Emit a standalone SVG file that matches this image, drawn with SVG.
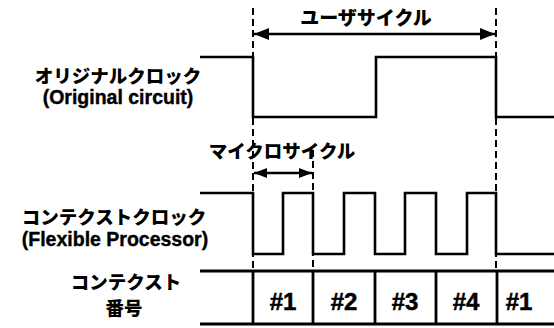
<svg xmlns="http://www.w3.org/2000/svg" width="554" height="328" viewBox="0 0 554 328">
<defs>
<style>
.jp{font-family:"Noto Sans CJK JP","Liberation Sans",sans-serif;font-weight:900;font-size:18.5px;fill:#000;text-anchor:middle}
.en{font-family:"Liberation Sans",Arial,sans-serif;font-weight:bold;font-size:19.5px;fill:#000;text-anchor:middle;stroke:#000;stroke-width:0.4}
.num{font-family:"Liberation Sans",Arial,sans-serif;font-weight:bold;font-size:24px;fill:#000;text-anchor:middle;stroke:#000;stroke-width:0.5}
.sig{fill:none;stroke:#000;stroke-width:2.6;stroke-linejoin:miter}
.dash{fill:none;stroke:#000;stroke-width:2;stroke-dasharray:7 4}
.tbl{fill:none;stroke:#000;stroke-width:2.8}
.arr{fill:none;stroke:#000;stroke-width:2.6}
</style>
<marker id="ah" viewBox="0 0 15 12" refX="15" refY="6" markerWidth="15" markerHeight="12" markerUnits="userSpaceOnUse" orient="auto-start-reverse">
<path d="M0,0 L15,6 L0,12 Z" fill="#000"/>
</marker>
<marker id="ahs" viewBox="0 0 13 10" refX="13" refY="5" markerWidth="13" markerHeight="10" markerUnits="userSpaceOnUse" orient="auto-start-reverse">
<path d="M0,0 L13,5 L0,10 Z" fill="#000"/>
</marker>
</defs>
<rect width="554" height="328" fill="#fff"/>

<g id="connectors">
<line class="dash" x1="253" y1="8" x2="253" y2="270"/>
<line class="dash" x1="496" y1="8" x2="496" y2="270"/>
<line class="dash" x1="313" y1="150" x2="313" y2="270"/>
<line class="arr" x1="254" y1="34" x2="495" y2="34" marker-start="url(#ah)" marker-end="url(#ah)"/>
<line class="arr" x1="254" y1="173" x2="312" y2="173" marker-start="url(#ahs)" marker-end="url(#ahs)"/>
</g>

<g id="user-cycle-label">
<text class="jp" x="366" y="25" style="font-size:19px">ユーザサイクル</text>
</g>

<g id="original-clock">
<text class="jp" x="118" y="83">オリジナルクロック</text>
<text class="en" x="118" y="104">(Original circuit)</text>
<path class="sig" d="M200,57 H253 V117 H376 V57 H496 V117 H554"/>
</g>

<g id="micro-cycle-label">
<text class="jp" x="282" y="158">マイクロサイクル</text>
</g>

<g id="context-clock">
<text class="jp" x="114" y="224">コンテクストクロック</text>
<text class="en" x="115" y="246">(Flexible Processor)</text>
<path class="sig" d="M200,193 H253 V254 H283 V193 H313 V254 H344 V193 H375 V254 H405 V193 H436 V254 H467 V193 H496 V254 H554"/>
</g>

<g id="context-number">
<text class="jp" x="126" y="289">コンテクスト</text>
<text class="jp" x="124" y="315">番号</text>
<path class="tbl" d="M200,271 H554 M200,324 H554 M253,271 V324 M313,271 V324 M375,271 V324 M436,271 V324 M497,271 V324"/>
<text class="num" x="283" y="310">#1</text>
<text class="num" x="344" y="310">#2</text>
<text class="num" x="405" y="310">#3</text>
<text class="num" x="466" y="310">#4</text>
<text class="num" x="519" y="310">#1</text>
</g>
</svg>
